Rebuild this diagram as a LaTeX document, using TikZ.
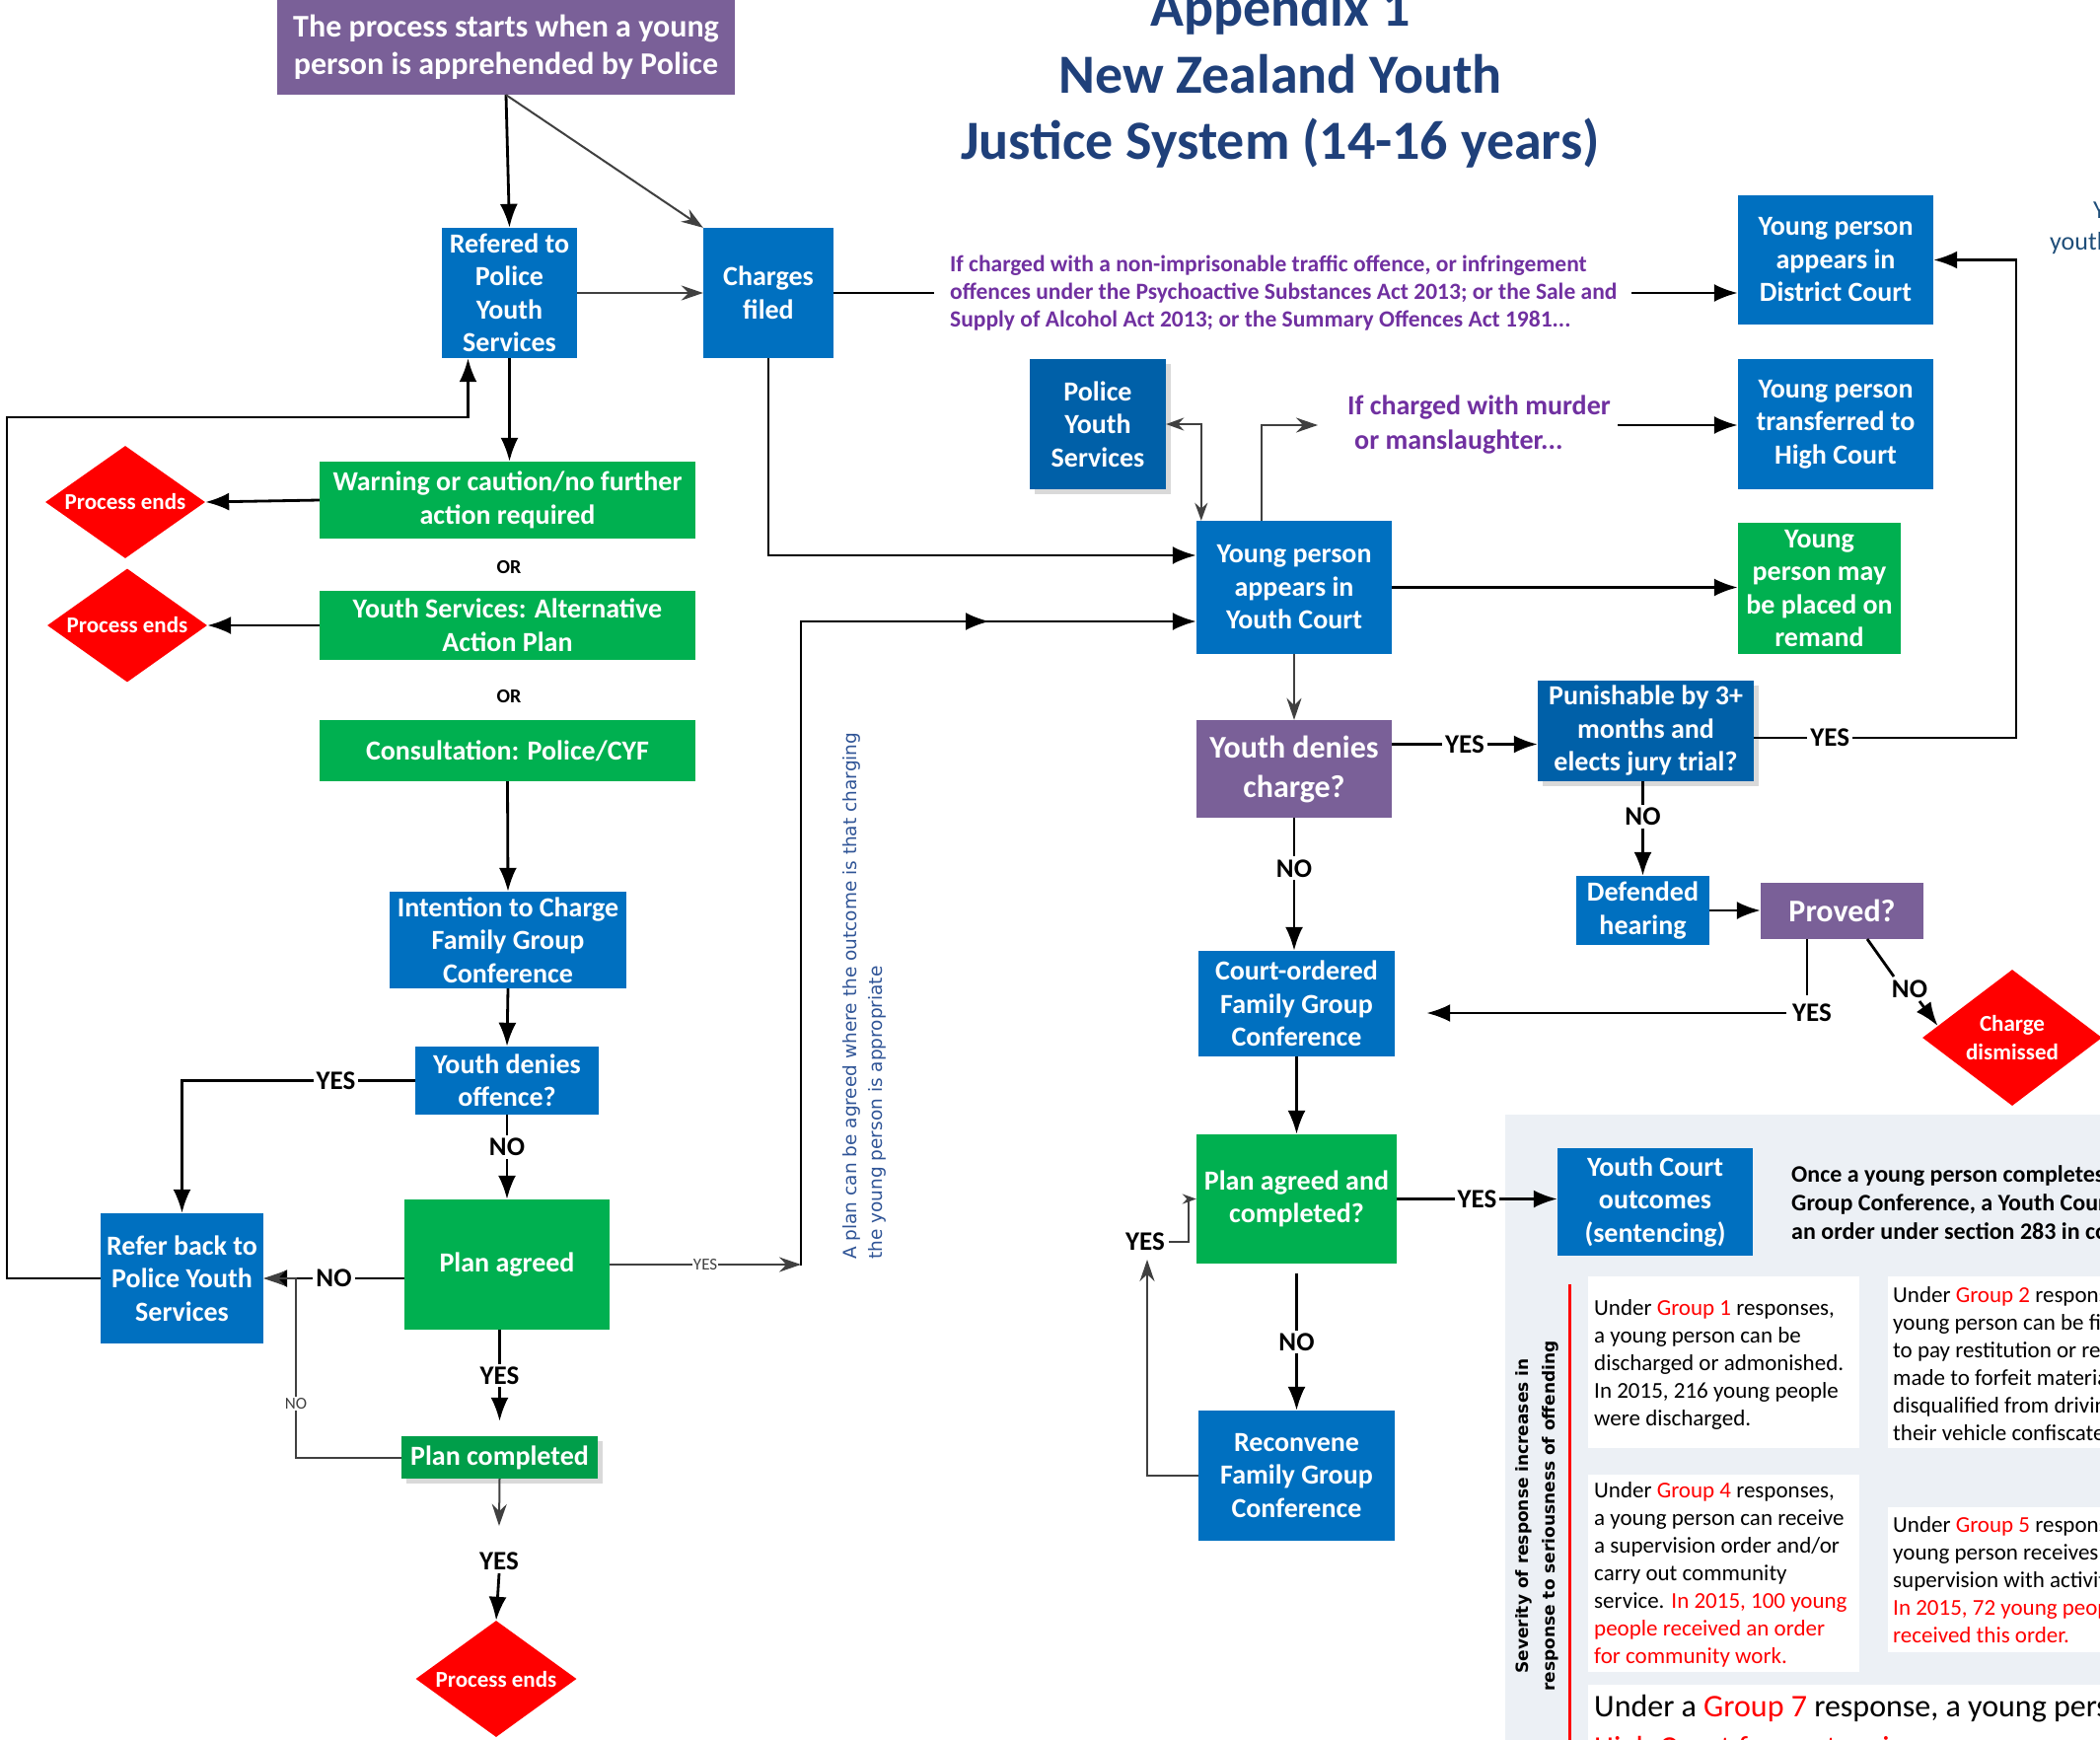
\documentclass[tikz,border=0pt]{standalone}
\usepackage{fontspec}
\setmainfont{Carlito}
\newfontfamily\dvs{DejaVu Sans}
\usetikzlibrary{arrows.meta,shapes.geometric,shadows,calc}
\definecolor{myblue}{RGB}{0,112,192}
\definecolor{dkblue}{RGB}{0,96,168}
\definecolor{mygreen}{RGB}{0,176,80}
\definecolor{dkgreen}{RGB}{0,158,74}
\definecolor{mypurple}{RGB}{122,96,152}
\definecolor{txtpurple}{RGB}{112,48,160}
\definecolor{navy}{RGB}{31,64,122}
\definecolor{navytwo}{RGB}{31,78,121}
\definecolor{vblue}{RGB}{47,84,150}
\definecolor{panelgray}{RGB}{236,240,245}
\definecolor{lgray}{RGB}{64,64,64}
\definecolor{myred}{RGB}{255,0,0}
\begin{document}
\begin{tikzpicture}[x=1pt,y=-1pt,
  box/.style={rectangle, inner sep=2pt, align=center, text=white, font=\bfseries\fontsize{28}{33.5}\selectfont},
  bluebox/.style={box, fill=myblue},
  dkbluebox/.style={box, fill=dkblue, drop shadow={shadow xshift=5pt, shadow yshift=-5pt, fill=black!15, opacity=1}},
  greenbox/.style={box, fill=mygreen},
  dkgreenbox/.style={box, fill=dkgreen, drop shadow={shadow xshift=5pt, shadow yshift=-5pt, fill=black!15, opacity=1}},
  purplebox/.style={box, fill=mypurple},
  enddiamond/.style={diamond, fill=myred, text=white, inner sep=0pt, align=center, font=\bfseries\fontsize{23}{29}\selectfont},
  conn/.style={line width=2.8pt, black},
  arr/.style={conn, -{Latex[length=24pt,width=18pt]}},
  gconn/.style={line width=2pt, lgray},
  garr/.style={gconn, -{Stealth[length=22pt,width=15pt]}},
  lbl/.style={fill=white, inner sep=3pt, font=\bfseries\fontsize{27}{30}\selectfont},
  slbl/.style={fill=white, inner sep=1pt, font=\fontsize{17}{19}\selectfont, text=lgray},
  grouptxt/.style={align=left, inner sep=0pt, anchor=west, font=\fontsize{23}{28}\selectfont},
  titletxt/.style={anchor=base, text=navy, inner sep=0pt, font=\bfseries\fontsize{56}{67}\selectfont},
]
\useasboundingbox (0,0) rectangle (2129,1764);
\clip (0,0) rectangle (2129,1764);

% ---------- background panel ----------
\fill[panelgray] (1526,1130) rectangle (2140,1780);
\fill[white] (1610,1294) rectangle (1885,1468);
\fill[white] (1914,1294) rectangle (2140,1468);
\fill[white] (1610,1495) rectangle (1885,1695);
\fill[white] (1914,1528) rectangle (2140,1675);
\fill[white] (1610,1708) rectangle (2140,1780);

% ---------- title ----------
\node[titletxt] (title1) at (1298,27) {Appendix 1};
\node[titletxt] (title2) at (1298,94) {New Zealand Youth};
\node[titletxt] (title3) at (1298,161) {Justice System (14-16 years)};

% ---------- left column ----------
\node[purplebox, minimum width=464pt, minimum height=96pt, font=\bfseries\fontsize{32}{38}\selectfont] (start) at (513,48) {The process starts when a young\\person is apprehended by Police};
\node[bluebox, minimum width=137pt, minimum height=132pt] (refered) at (516.5,297) {Refered to\\Police\\Youth\\Services};
\node[bluebox, minimum width=132pt, minimum height=132pt] (charges) at (779,297) {Charges\\filed};
\node[greenbox, minimum width=381pt, minimum height=78pt] (warning) at (514.5,507) {Warning or caution/no further\\action required};
\node[enddiamond, shape aspect=1.42, minimum width=162pt, minimum height=114pt] (pe1) at (127,509) {Process ends};
\node[font=\bfseries\fontsize{20}{24}\selectfont] (or1) at (516,575) {OR};
\node[greenbox, minimum width=381pt, minimum height=70pt] (aap) at (514.5,634) {Youth Services: Alternative\\Action Plan};
\node[enddiamond, shape aspect=1.41, minimum width=162pt, minimum height=115pt] (pe2) at (129,634) {Process ends};
\node[font=\bfseries\fontsize{20}{24}\selectfont] (or2) at (516,706) {OR};
\node[greenbox, minimum width=381pt, minimum height=62pt] (consult) at (514.5,761) {Consultation: Police/CYF};
\node[bluebox, minimum width=240pt, minimum height=98pt] (intention) at (515,953) {Intention to Charge\\Family Group\\Conference};
\node[bluebox, minimum width=186pt, minimum height=69pt] (ydo) at (514,1095.5) {Youth denies\\offence?};
\node[bluebox, minimum width=165pt, minimum height=132pt] (referback) at (184.5,1296) {Refer back to\\Police Youth\\Services};
\node[greenbox, minimum width=208pt, minimum height=132pt] (planagreed) at (514,1282) {Plan agreed};
\node[dkgreenbox, minimum width=199pt, minimum height=43pt] (plancomp) at (506.5,1477.5) {Plan completed};
\node[enddiamond, shape aspect=1.38, minimum width=163pt, minimum height=118pt] (pe3) at (503,1702) {Process ends};

% ---------- right column ----------
\node[bluebox, minimum width=198pt, minimum height=131pt] (district) at (1861,263.5) {Young person\\appears in\\District Court};
\node[dkbluebox, minimum width=138pt, minimum height=132pt] (pys) at (1113,430) {Police\\Youth\\Services};
\node[bluebox, minimum width=198pt, minimum height=132pt] (high) at (1861,430) {Young person\\transferred to\\High Court};
\node[bluebox, minimum width=198pt, minimum height=135pt] (youthcourt) at (1312,595.5) {Young person\\appears in\\Youth Court};
\node[greenbox, minimum width=165pt, minimum height=133pt] (remand) at (1844.5,596.5) {Young\\person may\\be placed on\\remand};
\node[purplebox, minimum width=198pt, minimum height=99pt, font=\bfseries\fontsize{32}{40}\selectfont] (ydc) at (1312,779.5) {Youth denies\\charge?};
\node[dkbluebox, minimum width=219pt, minimum height=102pt] (punish) at (1668.5,741) {Punishable by 3+\\months and\\elects jury trial?};
\node[bluebox, minimum width=135pt, minimum height=70pt] (defended) at (1665.5,923) {Defended\\hearing};
\node[purplebox, minimum width=165pt, minimum height=57pt, font=\bfseries\fontsize{32}{38}\selectfont] (proved) at (1867.5,923.5) {Proved?};
\node[enddiamond, shape aspect=1.32, minimum width=182pt, minimum height=138pt] (dismissed) at (2040,1052) {Charge\\dismissed};
\node[bluebox, minimum width=199pt, minimum height=107pt] (cofgc) at (1314.5,1017.5) {Court-ordered\\Family Group\\Conference};
\node[greenbox, minimum width=203pt, minimum height=131pt] (pac) at (1314.5,1215.5) {Plan agreed and\\completed?};
\node[bluebox, minimum width=198pt, minimum height=109pt] (outcomes) at (1678,1218.5) {Youth Court\\outcomes\\(sentencing)};
\node[bluebox, minimum width=199pt, minimum height=132pt] (reconvene) at (1314.5,1496) {Reconvene\\Family Group\\Conference};

% ---------- free texts ----------
\node[anchor=west, align=left, inner sep=0pt, text=txtpurple, font=\bfseries\fontsize{23.5}{28}\selectfont] (traffic) at (963,297) {If charged with a non-imprisonable traffic offence, or infringement\\offences under the Psychoactive Substances Act 2013; or the Sale and\\Supply of Alcohol Act 2013; or the Summary Offences Act 1981...};
\node[anchor=west, align=left, inner sep=0pt, text=txtpurple, font=\bfseries\fontsize{28}{35}\selectfont] (murder) at (1366,431) {If charged with murder\\\hspace*{7pt}or manslaughter...};
\node[rotate=90, anchor=west, align=left, inner sep=0pt, text=vblue, font=\dvs\fontsize{18.5}{26}\selectfont] (plantxt) at (876,1277) {A plan can be agreed where the outcome is that charging\\the young person is appropriate};
\node[rotate=90, align=center, inner sep=0pt, font=\dvs\bfseries\fontsize{17}{27}\selectfont] (sev) at (1558,1537) {Severity of response increases in\\response to seriousness of offending};
\node[anchor=west, align=left, inner sep=0pt, font=\bfseries\fontsize{24}{29}\selectfont] (otxt) at (1816,1219) {Once a young person completes\\Group Conference, a Youth Court\\an order under section 283 in court};
\node[grouptxt] (g1t) at (1616,1383) {Under \textcolor{myred}{Group 1} responses,\\a young person can be\\discharged or admonished.\\In 2015, 216 young people\\were discharged.};
\node[grouptxt] (g2t) at (1919,1383) {Under \textcolor{myred}{Group 2} responses\\young person can be fined\\to pay restitution or repair\\made to forfeit material\\disqualified from driving\\their vehicle confiscated};
\node[grouptxt] (g4t) at (1616,1596) {Under \textcolor{myred}{Group 4} responses,\\a young person can receive\\a supervision order and/or\\carry out community\\service. \textcolor{myred}{In 2015, 100 young}\\\textcolor{myred}{people received an order}\\\textcolor{myred}{for community work.}};
\node[grouptxt] (g5t) at (1919,1602) {Under \textcolor{myred}{Group 5} responses\\young person receives\\supervision with activity\\\textcolor{myred}{In 2015, 72 young people}\\\textcolor{myred}{received this order.}};
\node[grouptxt, font=\fontsize{32}{42}\selectfont] (g7t) at (1616,1753) {Under a \textcolor{myred}{Group 7} response, a young person\\\textcolor{myred}{High Court for sentencing}};
\node[anchor=west, inner sep=0pt, text=navytwo, font=\fontsize{26}{34}\selectfont] (rt1) at (2122,213) {Y};
\node[anchor=west, inner sep=0pt, text=navytwo, font=\fontsize{26}{34}\selectfont] (rt2) at (2078,247) {youth};

% ---------- named free ends ----------
\coordinate (trafA) at (947,297);
\coordinate (trafB) at (1654,297);
\coordinate (fb1) at (7,423);
\coordinate (vbot) at (812,1283);
\coordinate (vtop) at (812,630);
\coordinate (midtip) at (1003,630);
\coordinate (nocorner) at (300,1296);
\coordinate (pcorner) at (2044,748);
\coordinate (py1) at (1832,1009);
\coordinate (pn0) at (1893,952);
\coordinate (pn1) at (1920,990);
\coordinate (pn2) at (1946,1015);
\coordinate (rc) at (1163,1496);
\coordinate (rtip) at (1163,1277);
\coordinate (rj) at (1205,1259);
\coordinate (redtop) at (1591,1302);
\coordinate (redbot) at (1591,1792);

% ---------- connectors: left ----------
\draw[arr] (start.south) -- (refered.north);
\draw[garr] (start.south) -- (charges.north west);
\draw[garr] (refered.east) -- (charges.west);
\draw[conn] (charges.east) -- (trafA);
\draw[arr] (trafB) -- (trafB -| district.west);
\draw[arr] (charges.south) |- ([yshift=32.5pt]youthcourt.west);
\draw[arr] (refered.south) -- (refered.south |- warning.north);
\draw[arr] (warning.west) -- (pe1.east);
\draw[arr] (aap.west) -- (pe2.east);
\draw[arr] (consult.south) -- (intention.north);
\draw[arr] (intention.south) -- (ydo.north);
\draw[arr] (ydo.west) -| node[lbl, pos=0.17] {YES} (referback.north);
\draw[arr] (ydo.south) -- node[lbl, pos=0.38] {NO} (planagreed.north);
\draw[arr] (planagreed.west |- referback.east) -- node[lbl] {NO} (referback.east);
\draw[arr] (planagreed.south -| plancomp.north) -- node[lbl] {YES} ([yshift=15pt]plancomp.north);
\draw[garr] (plancomp.west) -| node[slbl, pos=0.65] {NO} (nocorner) -- (referback.east);
\node[lbl, fill=none] (pcyes) at (506,1583) {YES};
\draw[garr] (plancomp.south) -- ([yshift=24pt]pcyes.north);
\draw[arr] (pcyes.south) -- (pe3.north);
\draw[arr] (referback.west) -| (fb1) -| ([xshift=-42pt]refered.south);
\draw[garr] (planagreed.east) -- node[slbl] {YES} (planagreed.east -| vbot);
\draw[arr] (vbot) -- (vtop) -- (vtop -| youthcourt.west);
\draw[arr] (vtop) -- (midtip);

% ---------- connectors: right ----------
\draw[gconn, {Stealth[length=18pt,width=13pt]}-{Stealth[length=18pt,width=13pt]}] (pys.east) -| ([xshift=5pt]youthcourt.north west);
\draw[garr] ([xshift=66pt]youthcourt.north west) |- ([xshift=-30pt]murder.west);
\draw[arr] ([xshift=7pt]murder.east) -- (murder.east -| high.west);
\draw[arr] (youthcourt.east) -- (youthcourt.east -| remand.west);
\draw[garr] (youthcourt.south) -- (ydc.north);
\draw[arr] ([yshift=25pt]ydc.east) -- node[lbl] {YES} ([yshift=25pt]ydc.east -| punish.west);
\draw[arr] ([yshift=-7pt]punish.east) -- node[lbl, pos=0.29] {YES} (pcorner) |- (district.east);
\draw[arr] (punish.south -| defended.north) -- node[lbl, pos=0.37] {NO} (defended.north);
\draw[arr] (defended.east) -- (defended.east -| proved.west);
\draw[conn] (proved.south -| py1) -- (py1);
\node[lbl, fill=none, inner sep=0pt] (pyes) at (1837,1027) {YES};
\draw[arr] ([xshift=-6pt]pyes.west) -- ([xshift=32pt]cofgc.east |- pyes.west);
\draw[conn] (pn0) -- (pn1);
\draw[arr] (pn2) -- (dismissed.171);
\node[lbl, fill=none, inner sep=0pt] (pno) at (1936,1003) {NO};
\draw[arr] (ydc.south) -- node[lbl, pos=0.38] {NO} (ydc.south |- cofgc.north);
\draw[arr] (cofgc.south) -- (pac.north);
\draw[arr] (pac.east) -- node[lbl] {YES} (pac.east -| outcomes.west);
\draw[arr] ([yshift=-10pt]pac.south) -- node[lbl] {NO} (reconvene.north);
\node[lbl, fill=none, inner sep=0pt] (ryes) at (1161,1259) {YES};
\draw[garr] (reconvene.west) -- (rc) -- (rtip);
\draw[gconn, -{Stealth[length=14pt,width=10pt]}] ([xshift=4pt]ryes.east) -- (rj) |- (pac.west);
\draw[myred, line width=3pt, -{Latex[length=22pt,width=16pt]}] (redtop) -- (redbot);
\end{tikzpicture}
\end{document}
